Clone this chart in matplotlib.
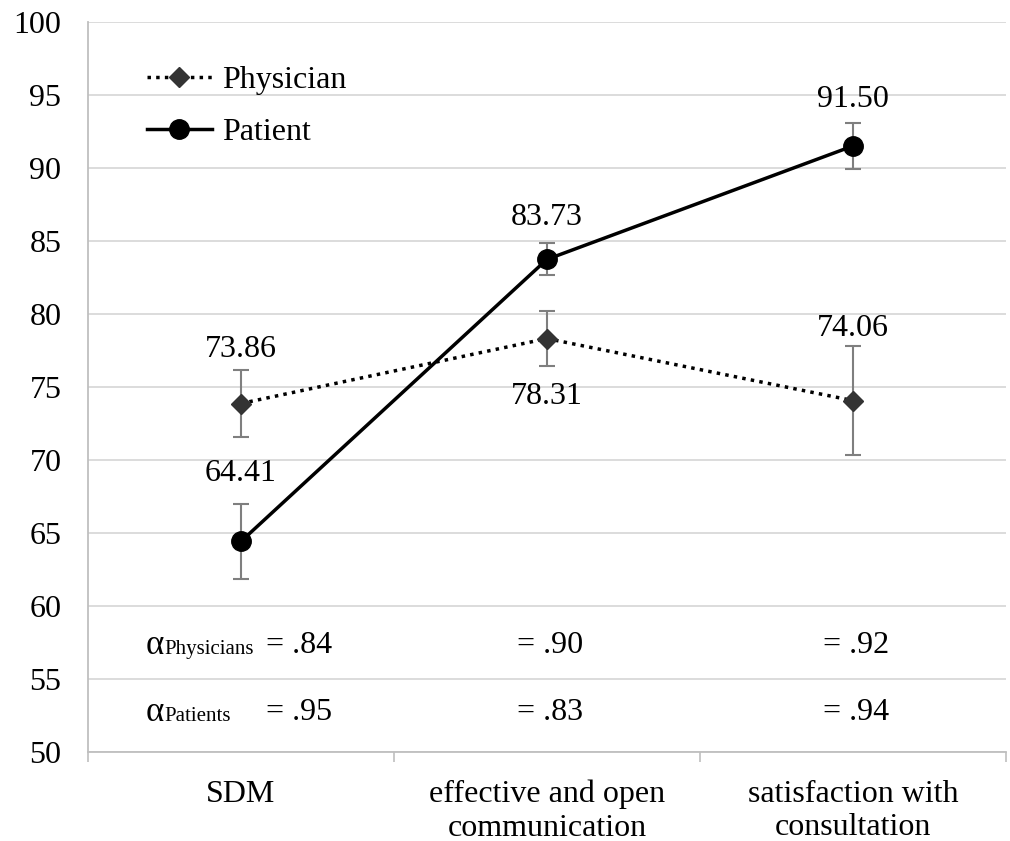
import matplotlib
matplotlib.use('Agg')
import matplotlib.pyplot as plt

plt.rcParams['font.family'] = ['Liberation Serif', 'DejaVu Serif']

categories = ['SDM', 'effective and open\ncommunication', 'satisfaction with\nconsultation']
physician = [73.86, 78.31, 74.06]
physician_err = [2.3, 1.9, 3.75]
patient = [64.41, 83.73, 91.50]
patient_err = [2.6, 1.1, 1.6]
alpha_phys = ['= .84', '= .90', '= .92']
alpha_pat = ['= .95', '= .83', '= .94']

fig = plt.figure(figsize=(10.1, 8.41), dpi=100)
ax = fig.add_axes([0.087, 0.106, 0.909, 0.868])

x = list(range(len(categories)))
grey = '#7f7f7f'

ax.errorbar(x, physician, yerr=physician_err, fmt='none', ecolor=grey,
            elinewidth=1.5, capsize=6, capthick=1.5, zorder=2)
ax.errorbar(x, patient, yerr=patient_err, fmt='none', ecolor=grey,
            elinewidth=1.5, capsize=6, capthick=1.5, zorder=2)
ax.plot(x, physician, linestyle=(0, (1, 1.5)), color='black', lw=2.5,
        marker='D', ms=10, mfc='#333333', mec='#333333', label='Physician', zorder=3)
ax.plot(x, patient, linestyle='-', color='black', lw=2.5,
        marker='o', ms=14, mfc='black', mec='black', label='Patient', zorder=4)

# value labels (label above the error bar, except the middle physician one)
fs = 23
phys_gap = [4, -11, 2]
pat_gap = [11, 8, 6]
for i, v in enumerate(physician):
    if i == 1:
        ax.annotate(f'{v:.2f}', (i, v - physician_err[i]), xytext=(0, phys_gap[i]),
                    textcoords='offset points', ha='center', va='top', fontsize=fs)
    else:
        ax.annotate(f'{v:.2f}', (i, v + physician_err[i]), xytext=(0, phys_gap[i]),
                    textcoords='offset points', ha='center', va='bottom', fontsize=fs)
for i, v in enumerate(patient):
    ax.annotate(f'{v:.2f}', (i, v + patient_err[i]), xytext=(0, pat_gap[i]),
                textcoords='offset points', ha='center', va='bottom', fontsize=fs)

# reliability rows
row_y = [57.3, 52.7]
for yy, who in zip(row_y, ['Physicians', 'Patients']):
    ax.text(-0.31, yy, 'α', fontsize=fs + 2, va='center', ha='left')
    ax.annotate(who, (-0.31, yy), xytext=(13, -3), textcoords='offset points',
                fontsize=15, va='center', ha='left')
col_x = [0.19, 1.01, 2.01]
for i in range(3):
    ax.text(col_x[i], row_y[0], alpha_phys[i], fontsize=fs, va='center', ha='center')
    ax.text(col_x[i], row_y[1], alpha_pat[i], fontsize=fs, va='center', ha='center')

ax.set_xlim(-0.5, 2.5)
ax.set_ylim(50, 100)
ax.set_yticks(range(50, 101, 5))
ax.set_xticks(x)
ax.set_xticklabels(categories, fontsize=fs, linespacing=1.2)
ax.set_xticks([-0.5, 0.5, 1.5, 2.5], minor=True)
ax.tick_params(axis='x', which='major', length=0, pad=20)
ax.tick_params(axis='x', which='minor', length=7, color='#bfbfbf', width=1.2)
ax.tick_params(axis='y', length=0, labelsize=fs, pad=19)

ax.grid(axis='y', color='#d9d9d9', lw=1.3)
ax.set_axisbelow(True)
for s in ['top', 'right']:
    ax.spines[s].set_visible(False)
for s in ['left', 'bottom']:
    ax.spines[s].set_color('#bfbfbf')
    ax.spines[s].set_linewidth(1.3)

ax.legend(loc='upper left', bbox_to_anchor=(0.064, 0.94), frameon=False,
          borderaxespad=0, borderpad=0,
          fontsize=fs, handlelength=2.05, handletextpad=0.3, labelspacing=0.7)

fig.savefig('out.png', dpi=100)
